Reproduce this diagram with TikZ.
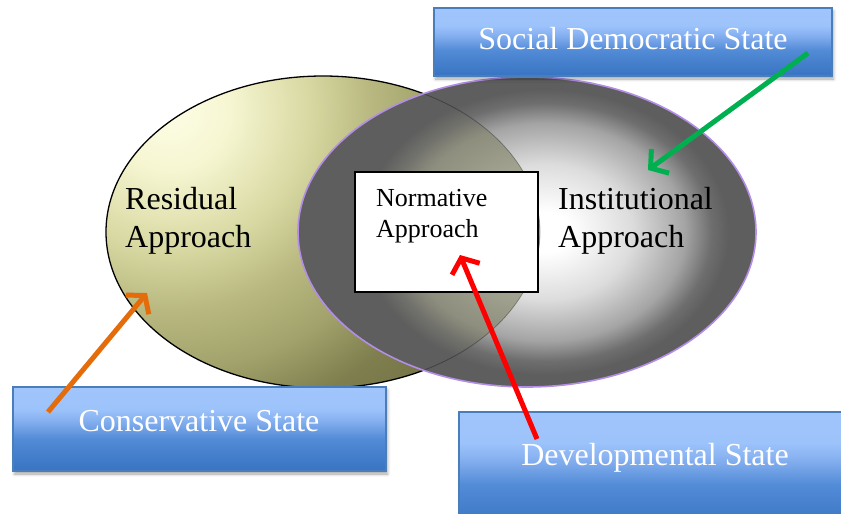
\documentclass[tikz,border=0pt]{standalone}
\usepackage{fontspec}
\setmainfont{Liberation Serif}
\usetikzlibrary{arrows.meta,shadows.blur}
\definecolor{ol0}{HTML}{FDFDE6}
\definecolor{ol1}{HTML}{F6F6D2}
\definecolor{ol2}{HTML}{D8D8A2}
\definecolor{ol3}{HTML}{B8B880}
\definecolor{ol4}{HTML}{A2A26C}
\definecolor{ol5}{HTML}{7E7E4E}
\definecolor{ol6}{HTML}{6E6E44}
\definecolor{gr1}{HTML}{DCDCDC}
\definecolor{gr2}{HTML}{A4A4A4}
\definecolor{gr25}{HTML}{6E6E6E}
\definecolor{gr3}{HTML}{5E5E5E}
\definecolor{ov0}{HTML}{B0B09C}
\definecolor{ov1}{HTML}{A2A290}
\definecolor{ov2}{HTML}{8E8E7E}
\definecolor{ov3}{HTML}{6E6E6A}
\definecolor{purp}{HTML}{B48EE6}
\definecolor{bb0}{HTML}{3A76C4}
\definecolor{bb1}{HTML}{528BD6}
\definecolor{bb2}{HTML}{85B0F0}
\definecolor{bb3}{HTML}{9DC3FB}
\definecolor{bb4}{HTML}{A0C5FC}
\definecolor{bborder}{HTML}{4A7EBB}
\definecolor{agreen}{HTML}{00B050}
\definecolor{aorange}{HTML}{E46C0A}
\definecolor{ared}{HTML}{FF0000}
\pgfdeclareradialshading{olivesh}{\pgfpointorigin}{color(0bp)=(ol0); color(3.75bp)=(ol1); color(8.75bp)=(ol2); color(12.5bp)=(ol3); color(16.25bp)=(ol4); color(20bp)=(ol5); color(25bp)=(ol6); color(50bp)=(ol6)}
\pgfdeclareradialshading{graysh}{\pgfpointorigin}{color(0bp)=(white); color(1.875bp)=(white); color(6.25bp)=(gr1); color(10bp)=(gr2); color(11.875bp)=(gr25); color(13.125bp)=(gr3); color(50bp)=(gr3)}
\pgfdeclareradialshading{ovsh}{\pgfpointorigin}{color(0bp)=(ov0); color(6.25bp)=(ov1); color(10bp)=(ov2); color(11.875bp)=(ov3); color(13.125bp)=(gr3); color(50bp)=(gr3)}
\pgfdeclareverticalshading{boxsh}{100bp}{color(0bp)=(bb0); color(27bp)=(bb0); color(44bp)=(bb1); color(55bp)=(bb2); color(62bp)=(bb3); color(75bp)=(bb4); color(100bp)=(bb4)}
\begin{document}
\begin{tikzpicture}[x=1pt,y=-1pt,
  bluebox/.style={draw=bborder, line width=1.2pt, shading=boxsh, inner sep=0pt,
    blur shadow={shadow xshift=1.5pt, shadow yshift=-3pt, shadow blur radius=3pt, shadow opacity=35}},
  boxtext/.style={text=white, font=\fontsize{32}{38}\selectfont, inner sep=0pt},
  bigtext/.style={text=black, font=\fontsize{32}{38}\selectfont, inner sep=0pt, align=left},
  smalltext/.style={text=black, font=\fontsize{26}{30.5}\selectfont, inner sep=0pt, align=left},
  arr/.style={line width=5pt, -{Straight Barb[length=12pt,width=30pt]}}]
\useasboundingbox (0,0) rectangle (841,514);
\coordinate (lc) at (323,232);
\coordinate (rc) at (527,232);
% left ellipse
\path[path picture={\shade[shading=olivesh] (170,110) circle (400);}] (lc) ellipse (217 and 156);
\draw[line width=1.3pt, black] (lc) ellipse (217 and 156);
% right ellipse
\path[fill=gr3, path picture={\shade[shading=graysh] (545,232) ellipse (350 and 272);}] (rc) ellipse (229 and 155);
\begin{scope}
  \clip (lc) ellipse (217 and 156);
  \clip (rc) ellipse (229 and 155);
  \shade[shading=ovsh] (545,232) ellipse (350 and 272);
\end{scope}
\begin{scope}
  \clip (rc) ellipse (229 and 155);
  \draw[line width=0.8pt, black, opacity=0.3] (lc) ellipse (217 and 156);
\end{scope}
\draw[line width=1.6pt, purp] (rc) ellipse (229 and 155);
% normative box
\node[draw=black, line width=1.5pt, fill=white, minimum width=183pt, minimum height=120pt, inner sep=0pt] (norm) at (446.5,232) {};
\node[smalltext, anchor=base west] (normtxt) at (376,237) {Normative\\Approach};
\node[bigtext, anchor=base west] (restxt) at (125,247) {Residual\\Approach};
\node[bigtext, anchor=base west] (insttxt) at (558,247) {Institutional\\Approach};
% blue boxes
\node[bluebox, minimum width=398pt, minimum height=68pt] (sdbox) at (633,42) {};
\node[boxtext, anchor=base] (sdtxt) at (633,49) {Social Democratic State};
\node[bluebox, minimum width=373pt, minimum height=84pt] (csbox) at (199.5,429) {};
\node[boxtext, anchor=base] (cstxt) at (199,431) {Conservative State};
\node[bluebox, minimum width=391pt, minimum height=118pt] (dvbox) at (654.5,471) {};
\node[boxtext, anchor=base] (dvtxt) at (655,465) {Developmental State};
% arrows
\coordinate (g1) at (808,53);
\coordinate (g2) at (648,170);
\coordinate (o1) at (48,412);
\coordinate (o2) at (147,293);
\coordinate (r1) at (537,439);
\coordinate (r2) at (460,255);
\draw[arr, agreen] (g1) -- (g2);
\draw[arr, aorange] (o1) -- (o2);
\draw[arr, ared] (r1) -- (r2);
\end{tikzpicture}
\end{document}
